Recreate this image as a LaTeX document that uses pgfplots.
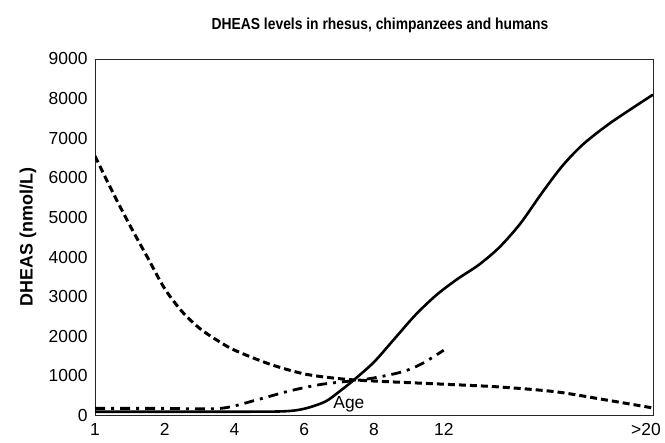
\documentclass[border=0pt]{standalone}
\usepackage{fontspec}
\setmainfont{Liberation Sans}
\usepackage{pgfplots}
\pgfplotsset{compat=1.18}
\begin{document}
\begin{tikzpicture}
\begin{axis}[name=ax, scale only axis, width=558bp, height=356.5bp,
  xmin=0, xmax=8, ymin=0, ymax=9000,
  xtick={0,1,2,3,4,5,7.9}, xticklabels={1,2,4,6,8,12,>20},
  ytick={0,1000,...,9000},
  major tick length=0pt,
  axis line style={line width=0.9bp, black!85},
  tick label style={font=\fontsize{17.5}{20}\selectfont},
  /pgf/number format/assume math mode=true,
  scaled y ticks=false,
  yticklabel style={/pgf/number format/1000 sep={}, xshift=-4bp},
  xticklabel style={yshift=-4bp},
  ylabel={DHEAS (nmol/L)},
  every axis y label/.style={at={(axis description cs:0,0.5)}, rotate=90, anchor=center, yshift=67bp, font=\bfseries\fontsize{18}{20}\selectfont},
]
\addplot[black, line width=3bp, dash pattern=on 7bp off 4bp, smooth] coordinates {
(0,6550)(0.25,5650)(0.5,4800)(0.75,4000)(1.0,3200)(1.25,2620)(1.5,2200)(1.75,1900)(2.0,1650)(2.5,1300)(3.0,1050)(3.5,930)(4.0,870)(5.0,790)(5.8,720)(6.6,600)(7.3,400)(8,190)};
\addplot[black, line width=2.8bp, dash pattern=on 10bp off 6bp on 3bp off 6bp, smooth] coordinates {
(0,180)(1,180)(1.8,180)(2.31,390)(2.79,620)(3.26,790)(3.9,920)(4.4,1100)(4.7,1320)(5.0,1650)};
\addplot[black, line width=2.6bp, smooth] coordinates {
(0,95)(1,95)(2,95)(2.7,105)(3.0,170)(3.3,350)(3.5,600)(3.7,880)(4.0,1350)(4.3,1950)(4.6,2550)(4.9,3050)(5.2,3450)(5.5,3800)(5.8,4250)(6.1,4850)(6.4,5600)(6.7,6300)(7.0,6850)(7.4,7400)(8,8100)};
\node[font=\fontsize{17.5}{20}\selectfont] at (axis cs:3.64,270) {Age};
\end{axis}
\node[font=\bfseries\fontsize{16}{18}\selectfont, xscale=0.87, transform shape] at ([shift={(6bp,34bp)}]ax.north) {DHEAS levels in rhesus, chimpanzees and humans};
\pgfresetboundingbox
\path[use as bounding box] ([shift={(-95bp,-27.5bp)}]ax.south west) rectangle ([shift={(12bp,59bp)}]ax.north east);
\end{tikzpicture}
\end{document}
